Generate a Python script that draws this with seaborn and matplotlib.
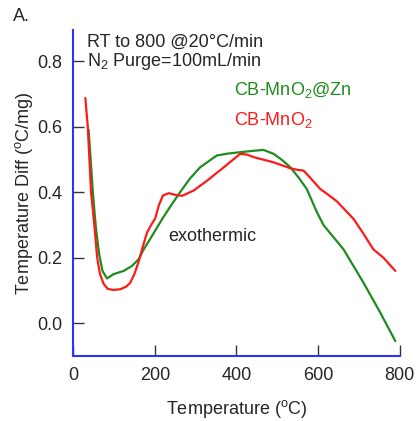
import matplotlib
matplotlib.use("Agg")
import matplotlib.pyplot as plt
import seaborn as sns
import pandas as pd

# CB-MnO2@Zn (green)
temp_zn = [38, 43, 49, 56, 64, 72, 83, 99, 124, 144, 160, 173, 190, 218,
           240, 262, 285, 311, 352, 380, 409, 440, 466, 491, 512, 532, 552,
           572, 597, 613, 662, 711, 752, 789]
diff_zn = [0.59, 0.50, 0.39, 0.29, 0.21, 0.16, 0.137, 0.15, 0.16, 0.175,
           0.195, 0.226, 0.26, 0.318, 0.36, 0.40, 0.44, 0.476, 0.512, 0.518,
           0.522, 0.526, 0.529, 0.517, 0.498, 0.476, 0.445, 0.41, 0.339,
           0.30, 0.226, 0.124, 0.033, -0.054]

# CB-MnO2 (red)
temp_mn = [30, 36, 44, 52, 59, 66, 75, 85, 99, 115, 130, 140, 150, 161, 171,
           181, 191, 201, 210, 220, 234, 250, 267, 295, 328, 369, 409, 425,
           442, 491, 532, 550, 564, 580, 605, 625, 646, 687, 710, 735, 760, 789]
diff_mn = [0.687, 0.60, 0.40, 0.30, 0.20, 0.15, 0.12, 0.105, 0.102, 0.104,
           0.112, 0.124, 0.15, 0.19, 0.235, 0.277, 0.30, 0.32, 0.36, 0.39,
           0.397, 0.392, 0.389, 0.405, 0.435, 0.476, 0.517, 0.515, 0.507,
           0.491, 0.473, 0.468, 0.466, 0.445, 0.41, 0.392, 0.372, 0.318, 0.275,
           0.226, 0.2, 0.16]

x_ticks = [0, 200, 400, 600, 800]
y_ticks = [0.0, 0.2, 0.4, 0.6, 0.8]

sns.set_style("ticks")
plt.rcParams['font.family'] = ['Liberation Sans', 'DejaVu Sans']
plt.rcParams['mathtext.fontset'] = 'custom'
plt.rcParams['mathtext.rm'] = 'Liberation Sans'
plt.rcParams['mathtext.it'] = 'Liberation Sans'
plt.rcParams['lines.solid_joinstyle'] = 'round'

df = pd.concat([
    pd.DataFrame({'T': temp_zn, 'D': diff_zn, 'sample': 'CB-MnO2@Zn'}),
    pd.DataFrame({'T': temp_mn, 'D': diff_mn, 'sample': 'CB-MnO2'}),
])

fig = plt.figure(figsize=(4.2, 4.21), dpi=100)
ax = fig.add_axes([0.174, 0.154, 0.778, 0.775])
sns.lineplot(data=df, x='T', y='D', hue='sample', sort=False, estimator=None,
             palette={'CB-MnO2@Zn': '#1e8c1e', 'CB-MnO2': '#ff1a1a'},
             hue_order=['CB-MnO2@Zn', 'CB-MnO2'], linewidth=1.6, legend=False, ax=ax)

ax.set_xlim(0, 800)
ax.set_ylim(-0.1, 0.895)
ax.set_xticks(x_ticks)
ax.set_yticks(y_ticks)
ax.set_yticklabels([f'{v:.1f}' for v in y_ticks])
ax.tick_params(direction='in', length=8, width=1, color='#333333', labelsize=13, pad=8)
sns.despine(ax=ax)
for s in ['left', 'bottom']:
    ax.spines[s].set_color('#3030ff')
    ax.spines[s].set_linewidth(1.5)

ax.set_xlabel('Temperature ($^{o}$C)', fontsize=13, labelpad=10)
ax.set_ylabel('Temperature Diff ($^{o}$C/mg)', fontsize=13, labelpad=1)

fig.text(0.03, 0.96, 'A.', fontsize=13, va='center')
ax.text(0.043, 0.963, 'RT to 800 @20°C/min', transform=ax.transAxes, fontsize=13, va='center')
ax.text(0.043, 0.902, 'N$_2$ Purge=100mL/min', transform=ax.transAxes, fontsize=13, va='center')
ax.text(0.492, 0.816, 'CB-MnO$_2$@Zn', transform=ax.transAxes, fontsize=13, va='center', color='#1e8c1e')
ax.text(0.492, 0.724, 'CB-MnO$_2$', transform=ax.transAxes, fontsize=13, va='center', color='#ff1a1a')
ax.text(340, 0.266, 'exothermic', fontsize=13, va='center', ha='center')

fig.savefig('out.png', dpi=100)
